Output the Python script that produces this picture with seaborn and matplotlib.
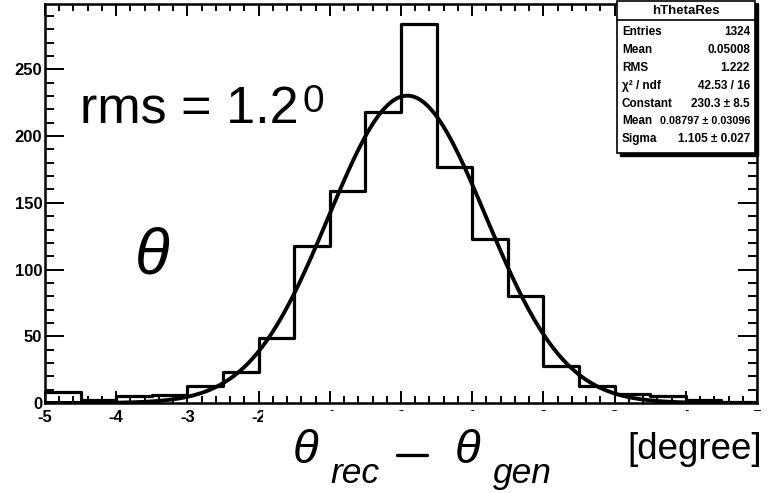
import numpy as np
import pandas as pd
import seaborn as sns
import matplotlib.pyplot as plt
from matplotlib import font_manager
from matplotlib.patches import Rectangle
from matplotlib.lines import Line2D

# Histogram hThetaRes: 20 bins of 0.5 degree from -5 to 5
bin_edges = [-5.0, -4.5, -4.0, -3.5, -3.0, -2.5, -2.0, -1.5, -1.0, -0.5, 0.0,
             0.5, 1.0, 1.5, 2.0, 2.5, 3.0, 3.5, 4.0, 4.5, 5.0]
bin_counts = [8, 2, 5, 6, 13, 23, 49, 118, 159, 218, 284,
              177, 123, 80, 28, 13, 7, 5, 2, 1]

# Gaussian fit result
fit_constant = 230.3
fit_mean = 0.08797
fit_sigma = 1.105

# Statistics box
stat_title = "hThetaRes"
stat_names = ["Entries", "Mean", "RMS", "χ² / ndf", "Constant", "Mean", "Sigma"]
stat_values = ["1324", "0.05008", "1.222", "42.53 / 16", "230.3 ± 8.5",
               "0.08797 ± 0.03096", "1.105 ± 0.027"]

x_ticks = [-5, -4, -3, -2, -1, 0, 1, 2, 3, 4, 5]
y_ticks = [0, 50, 100, 150, 200, 250]

sns.set_style("ticks")
plt.rcParams["font.family"] = ["Liberation Sans", "DejaVu Sans"]
plt.rcParams["axes.unicode_minus"] = False
plt.rcParams["text.color"] = "black"
plt.rcParams["xtick.color"] = "black"
plt.rcParams["ytick.color"] = "black"
plt.rcParams["axes.edgecolor"] = "black"

available = {f.name for f in font_manager.fontManager.ttflist}
narrow = "Liberation Sans Narrow" if "Liberation Sans Narrow" in available else "Liberation Sans"

W, H = 771, 493
fig = plt.figure(figsize=(W / 100, H / 100), dpi=100)


def px(x, y):
    return x / W, 1 - y / H


left, right, top, bottom = 45, 757, 4, 403
ax = fig.add_axes([left / W, 1 - bottom / H, (right - left) / W, (bottom - top) / H])

centers = [(a + b) / 2 for a, b in zip(bin_edges[:-1], bin_edges[1:])]
hist_df = pd.DataFrame({"x": centers, "n": bin_counts})
sns.histplot(data=hist_df, x="x", weights="n", bins=bin_edges, element="step",
             fill=False, color="black", linewidth=2.3, ax=ax)

xf = np.linspace(-5, 5, 400)
fit_df = pd.DataFrame({
    "x": xf,
    "y": fit_constant * np.exp(-0.5 * ((xf - fit_mean) / fit_sigma) ** 2),
})
sns.lineplot(data=fit_df, x="x", y="y", color="black", linewidth=2.8, ax=ax)

ax.set_xlim(-5, 5)
ax.set_ylim(0, 299)
ax.set_xlabel("")
ax.set_ylabel("")
ax.set_xticks(x_ticks)
ax.set_xticklabels([str(v) for v in x_ticks])
ax.set_xticks(np.arange(-5, 5.01, 0.2), minor=True)
ax.set_yticks(y_ticks)
ax.set_yticklabels([str(v) for v in y_ticks])
ax.set_yticks(np.arange(0, 299, 10), minor=True)

for side in ax.spines.values():
    side.set_visible(True)
    side.set_linewidth(1.8)
    side.set_color("black")

ax.tick_params(axis="x", which="both", direction="in", top=True, bottom=True,
               width=1.4, color="black", labelcolor="black")
ax.tick_params(axis="x", which="major", length=8.5, pad=5)
ax.tick_params(axis="x", which="minor", length=5)
ax.tick_params(axis="y", which="both", direction="in", left=True, right=True,
               width=1.4, color="black", labelcolor="black")
ax.tick_params(axis="y", which="major", length=14, pad=2)
ax.tick_params(axis="y", which="minor", length=6.5)

for lab in ax.get_xticklabels():
    lab.set_fontfamily(narrow)
    lab.set_fontweight("bold")
    lab.set_fontsize(12)
for lab in ax.get_yticklabels():
    lab.set_fontfamily("Liberation Sans")
    lab.set_fontweight("bold")
    lab.set_fontsize(12)

# white panel under the axis title hides most of the x tick labels
fig.patches.append(Rectangle(px(263, 493), (W - 263) / W, (493 - 411) / H,
                             transform=fig.transFigure, facecolor="white",
                             edgecolor="none", zorder=5))

# annotations inside the frame
fig.text(*px(80, 124), "rms = 1.2", fontsize=37.5, ha="left", va="baseline",
         family="Liberation Sans", color="black", zorder=6)
fig.text(*px(302, 84), "0", fontsize=28, ha="left", va="top",
         family="Liberation Sans", color="black", zorder=6)
fig.text(*px(152, 257), "θ", fontsize=46, style="italic", ha="center",
         va="center", family="Liberation Sans", color="black", zorder=6)

# axis title
fig.text(*px(305, 451), "θ", fontsize=34, style="italic", ha="center",
         va="center", family="Liberation Sans", color="black", zorder=6)
fig.text(*px(330, 483), "rec", fontsize=25.5, style="italic", ha="left",
         va="baseline", family="Liberation Sans", color="black", zorder=6)
fig.add_artist(Line2D([397 / W, 427 / W], [1 - 455 / H, 1 - 455 / H],
                      color="black", linewidth=2.4, zorder=6))
fig.text(*px(467, 451), "θ", fontsize=34, style="italic", ha="center",
         va="center", family="Liberation Sans", color="black", zorder=6)
fig.text(*px(493, 483), "gen", fontsize=25.5, style="italic", ha="left",
         va="baseline", family="Liberation Sans", color="black", zorder=6)
fig.text(*px(627, 459), "[degree]", fontsize=26.5, ha="left", va="baseline",
         family="Liberation Sans", color="black", zorder=6)

# statistics box with shadow
bx0, by0, bx1, by1 = 617, 1, 755, 153
fig.patches.append(Rectangle(px(bx0 + 3, by1 + 3), (bx1 - bx0) / W, (by1 - by0) / H,
                             transform=fig.transFigure, facecolor="black",
                             edgecolor="black", zorder=7))
fig.patches.append(Rectangle(px(bx0, by1), (bx1 - bx0) / W, (by1 - by0) / H,
                             transform=fig.transFigure, facecolor="white",
                             edgecolor="black", linewidth=1.2, zorder=8))
fig.add_artist(Line2D([bx0 / W, bx1 / W], [1 - 20 / H, 1 - 20 / H],
                      color="black", linewidth=1.2, zorder=9))
fig.text(*px((bx0 + bx1) / 2, 11), stat_title, fontsize=9.5, fontweight="bold",
         family=narrow, ha="center", va="center", color="black", zorder=9)
row_y = [32, 50, 68, 86, 104, 121, 139]
for name, val, yy in zip(stat_names, stat_values, row_y):
    val_size = 7.8 if len(val) > 14 else 8.5
    fig.text(*px(622, yy), name, fontsize=8.5, fontweight="bold", family=narrow,
             ha="left", va="center", color="black", zorder=9)
    fig.text(*px(750, yy), val, fontsize=val_size, fontweight="bold", family=narrow,
             ha="right", va="center", color="black", zorder=9)

fig.savefig("out.png", dpi=100)
